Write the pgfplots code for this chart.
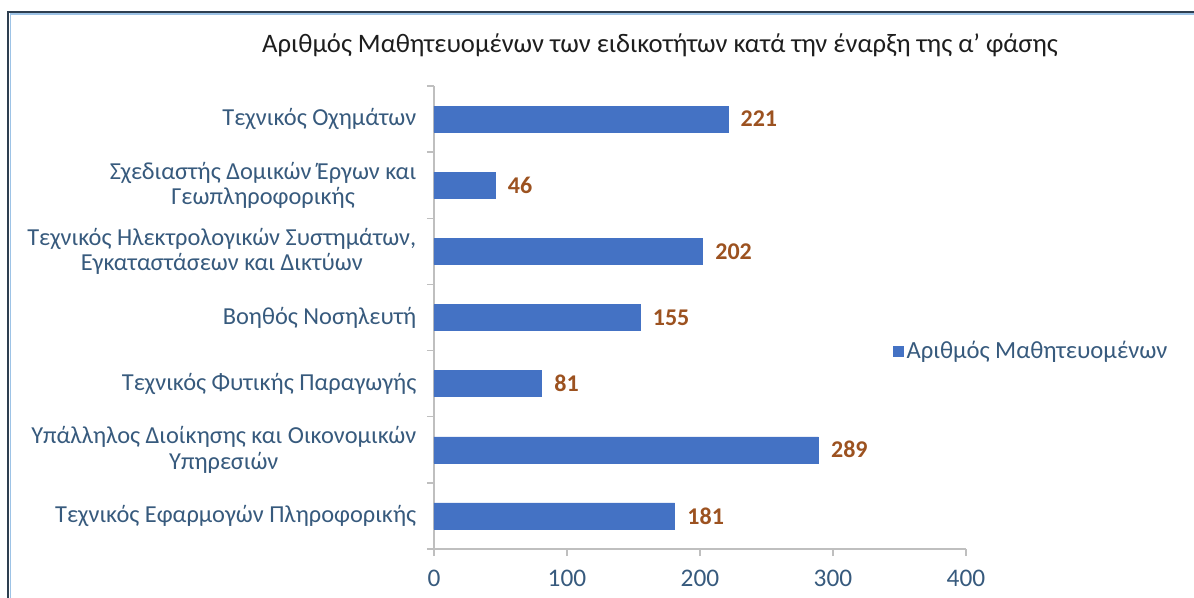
\documentclass[border=0pt]{standalone}
\usepackage{fontspec}
\setmainfont{Carlito}
\usepackage{pgfplots}
\pgfplotsset{compat=1.18}
\definecolor{barblue}{HTML}{4472C4}
\definecolor{labelcol}{RGB}{55,90,125}
\definecolor{valcol}{RGB}{156,82,32}
\definecolor{titlecol}{RGB}{30,30,30}
\definecolor{axgray}{RGB}{191,191,191}
\definecolor{framedark}{RGB}{46,63,80}
\definecolor{framelight}{RGB}{157,195,230}

\begin{document}
\begin{tikzpicture}
\begin{axis}[
    at={(0pt,0pt)}, anchor=south west,
    scale only axis,
    width=399pt, height=347.25pt,
    xbar, bar width=19.5pt,
    xmin=0, xmax=400, ymin=-0.5, ymax=6.5,
    axis x line*=bottom, axis y line*=left,
    axis line style={draw=axgray, line width=1pt},
    xtick={0,100,200,300,400},
    ytick={0,1,2,3,4,5,6},
    yticklabels={
        {Τεχνικός Εφαρμογών Πληροφορικής},
        {Υπάλληλος Διοίκησης και Οικονομικών\\Υπηρεσιών},
        {Τεχνικός Φυτικής Παραγωγής},
        {Βοηθός Νοσηλευτή},
        {Τεχνικός Ηλεκτρολογικών Συστημάτων,\\Εγκαταστάσεων και Δικτύων},
        {Σχεδιαστής Δομικών Έργων και\\Γεωπληροφορικής},
        {Τεχνικός Οχημάτων}},
    minor ytick={-0.5,0.5,1.5,2.5,3.5,4.5,5.5,6.5},
    major y tick style={draw=none},
    tick align=outside,
    major tick length=5.25pt, minor tick length=5.25pt,
    every tick/.style={draw=axgray, line width=1pt},
    minor y tick style={draw=axgray, line width=1pt},
    major x tick style={draw=axgray, line width=1pt},
    yticklabel style={align=center, font=\fontsize{18.3}{19}\selectfont, text=labelcol, xshift=-4.5pt},
    xticklabel style={font=\fontsize{19}{21}\selectfont, text=labelcol, yshift=-7pt},
    /pgf/number format/assume math mode=true,
    nodes near coords,
    every node near coord/.append style={font=\bfseries\fontsize{18}{20}\selectfont, text=valcol, anchor=west, xshift=6pt},
    legend entries={Αριθμός Μαθητευομένων},
    legend style={draw=none, fill=none, at={(rel axis cs:0.863,0.428)}, anchor=west,
        font=\fontsize{18.5}{20}\selectfont, text=labelcol, inner sep=0pt},
    legend image code/.code={\fill[barblue] (0pt,-3.75pt) rectangle (7.5pt,3.75pt);},
    legend cell align=left,
    legend style={/tikz/every even column/.append style={column sep=0pt}},
]
\addplot[fill=barblue, draw=barblue] coordinates {
    (181,0) (289,1) (81,2) (155,3) (202,4) (46,5) (221,6)};
\end{axis}
\node[font=\fontsize{20}{23}\selectfont, text=titlecol] at (169.5pt,378pt)
    {Αριθμός Μαθητευομένων των ειδικοτήτων κατά την έναρξη της α' φάσης};
\draw[framedark, line width=1.5pt] (-319.3pt,-60pt) -- (-319.3pt,402.75pt) -- (600pt,402.75pt);
\draw[framelight, line width=1.1pt] (-317.6pt,-60pt) -- (-317.6pt,401.25pt) -- (600pt,401.25pt);
\pgfresetboundingbox
\path[use as bounding box] (-325.5pt,-36pt) rectangle (570pt,411.75pt);
\end{tikzpicture}
\end{document}
